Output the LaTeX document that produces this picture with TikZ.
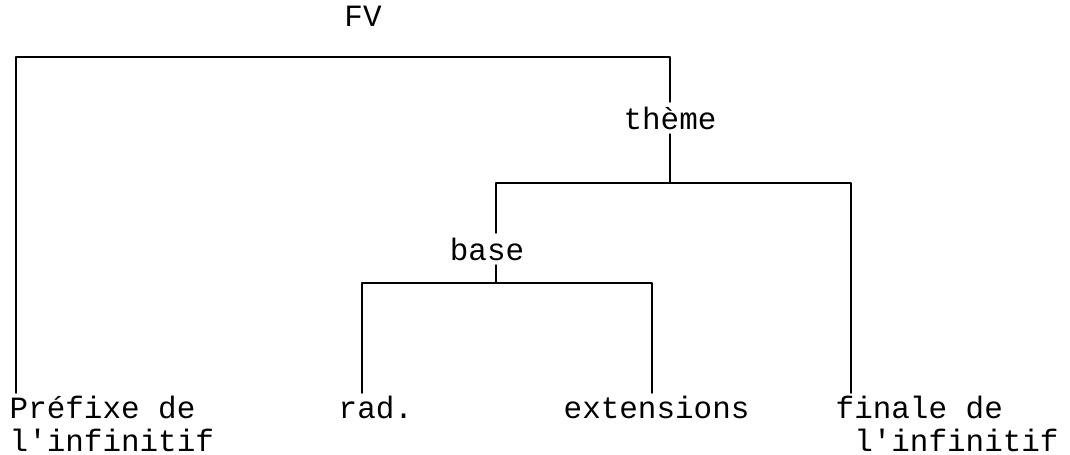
\documentclass[tikz,border=0pt]{standalone}
\usepackage{fontspec}
\setmonofont{Liberation Mono}
\usetikzlibrary{calc,positioning}
\tikzset{
  every picture/.append style={line cap=round,line join=round},
  tree branch/.style={line width=0.45pt},
  tree label/.style={font=\ttfamily\fontsize{8.8}{9.6}\selectfont,inner sep=0pt},
  tree leaf/.style={tree label,anchor=north west,align=left}
}

\begin{document}
\begin{tikzpicture}[x=0.01cm,y=-0.01cm]
\useasboundingbox (0,0) rectangle (1070,454);
\node[tree label] (fv) at (363,16) {FV};
\node[tree label] (theme) at (670,118) {thème};
\node[tree label] (base) at (487,249) {base};
\node[tree leaf] (prefix) at (9,395) {Préfixe de\\l'infinitif};
\node[tree leaf] (rad) at (338,395) {rad.};
\node[tree leaf] (ext) at (563,395) {extensions};
\node[tree leaf] (fin) at (835,395) {finale de\\\hspace*{0.6em}l'infinitif};
\coordinate (prefix top) at ($(prefix.north west)+(7,-2)$);
\coordinate (rad top) at ($(rad.north west)+(24,-2)$);
\coordinate (ext top) at ($(ext.north west)+(89,-2)$);
\coordinate (fin top) at ($(fin.north west)+(16,-2)$);
\coordinate (base top) at ($(base.north)+(9,-4)$);
\coordinate (base bottom) at ($(base.south)+(9,4)$);
\draw[tree branch] (prefix top) |- (theme |- 0,57) -- ($(theme.north)+(0,-4)$);
\draw[tree branch] ($(theme.south)+(0,4)$) -- (theme |- 0,183);
\draw[tree branch] (base top) |- (fin top |- 0,183) -- (fin top);
\draw[tree branch] (base bottom) -- (base bottom |- 0,283);
\draw[tree branch] (rad top) |- (ext top |- 0,283) -- (ext top);
\end{tikzpicture}
\end{document}
